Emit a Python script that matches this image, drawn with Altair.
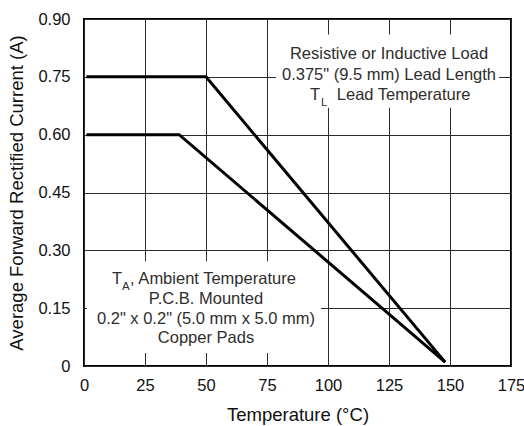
import altair as alt
import pandas as pd

# Derating curves: current limit vs temperature
temp_lead = [1, 50, 148]
current_lead = [0.75, 0.75, 0.01]
temp_ambient = [1, 39, 148]
current_ambient = [0.60, 0.60, 0.01]

x_ticks = [0, 25, 50, 75, 100, 125, 150, 175]
y_ticks = [0, 0.15, 0.30, 0.45, 0.60, 0.75, 0.90]

lead_lines = ["Resistive or Inductive Load", "0.375\" (9.5 mm) Lead Length"]
ambient_lines = ["P.C.B. Mounted", "0.2\" x 0.2\" (5.0 mm x 5.0 mm)", "Copper Pads"]

FONT = "Liberation Sans"
TEXT_COLOR = "#2e2e2e"
AXIS_COLOR = "#111111"
GRID_COLOR = "#2b2b2b"

curves = pd.DataFrame({
    "temp": temp_lead + temp_ambient,
    "current": current_lead + current_ambient,
    "series": ["lead"] * len(temp_lead) + ["ambient"] * len(temp_ambient),
})

x_scale = alt.Scale(domain=[0, 175], nice=False, zero=False)
y_scale = alt.Scale(domain=[0, 0.9], nice=False, zero=False)

x_axis = alt.Axis(
    values=x_ticks, title="Temperature (°C)", grid=True, ticks=False, domain=False,
    labelFlush=False, labelFont=FONT, labelFontSize=16.5, labelColor=AXIS_COLOR,
    labelPadding=11, titleFont=FONT, titleFontSize=18.5, titleFontWeight="normal",
    titleColor=AXIS_COLOR, titlePadding=12, gridColor=GRID_COLOR, gridWidth=1,
    gridOpacity=1,
)
y_axis = alt.Axis(
    values=y_ticks, title="Average Forward Rectified Current (A)", grid=True,
    ticks=False, domain=False, labelFlush=False,
    labelExpr="datum.value == 0 ? '0' : format(datum.value, '.2f')",
    labelFont=FONT, labelFontSize=16.5, labelColor=AXIS_COLOR, labelPadding=14,
    titleFont=FONT, titleFontSize=18.5, titleFontWeight="normal", titleColor=AXIS_COLOR,
    titlePadding=11, gridColor=GRID_COLOR, gridWidth=1, gridOpacity=1,
)

lines = alt.Chart(curves).mark_line(color="black", strokeWidth=3, strokeJoin="miter").encode(
    x=alt.X("temp:Q", scale=x_scale, axis=x_axis),
    y=alt.Y("current:Q", scale=y_scale, axis=y_axis),
    detail="series:N",
)

# White panels behind the two annotation blocks (mask the grid)
panels = pd.DataFrame({
    "x0": [78.7, 1.2], "x1": [170.1, 97.1],
    "y0": [0.670, 0.034], "y1": [0.860, 0.272],
})
masks = alt.Chart(panels).mark_rect(color="white").encode(
    x=alt.X("x0:Q", scale=x_scale), x2="x1:Q",
    y=alt.Y("y0:Q", scale=y_scale), y2="y1:Q",
)

# Centered annotation lines
centered = pd.DataFrame({
    "text": lead_lines + ambient_lines,
    "x": [125.0, 125.0, 50.0, 50.0, 50.0],
    "y": [0.795, 0.743, 0.161, 0.109, 0.060],
})
centered_text = alt.Chart(centered).mark_text(
    font=FONT, fontSize=16.5, color=TEXT_COLOR, align="center", baseline="alphabetic",
).encode(x=alt.X("x:Q", scale=x_scale), y=alt.Y("y:Q", scale=y_scale), text="text:N")

# Lines with a subscripted symbol: T_L and T_A
main_parts = pd.DataFrame({
    "text": ["T", "Lead Temperature", "T", ", Ambient Temperature"],
    "x": [92.6, 103.6, 11.5, 18.9],
    "y": [0.691, 0.691, 0.213, 0.213],
})
main_text = alt.Chart(main_parts).mark_text(
    font=FONT, fontSize=16.5, color=TEXT_COLOR, align="left", baseline="alphabetic",
).encode(x=alt.X("x:Q", scale=x_scale), y=alt.Y("y:Q", scale=y_scale), text="text:N")

subs = pd.DataFrame({
    "text": ["L", "A"],
    "x": [97.1, 15.6],
    "y": [0.691, 0.213],
})
sub_text = alt.Chart(subs).mark_text(
    font=FONT, fontSize=11.5, color=TEXT_COLOR, align="left", baseline="alphabetic", dy=6,
).encode(x=alt.X("x:Q", scale=x_scale), y=alt.Y("y:Q", scale=y_scale), text="text:N")

chart = alt.layer(masks, lines, centered_text, main_text, sub_text).properties(
    width=427, height=347,
    autosize=alt.AutoSizeParams(type="none"),
    padding={"left": 84, "top": 19, "right": 13, "bottom": 60},
    background="white",
).configure_view(stroke="black", strokeWidth=2)

chart.save("out.html", embed_options={"renderer": "svg", "actions": False})
